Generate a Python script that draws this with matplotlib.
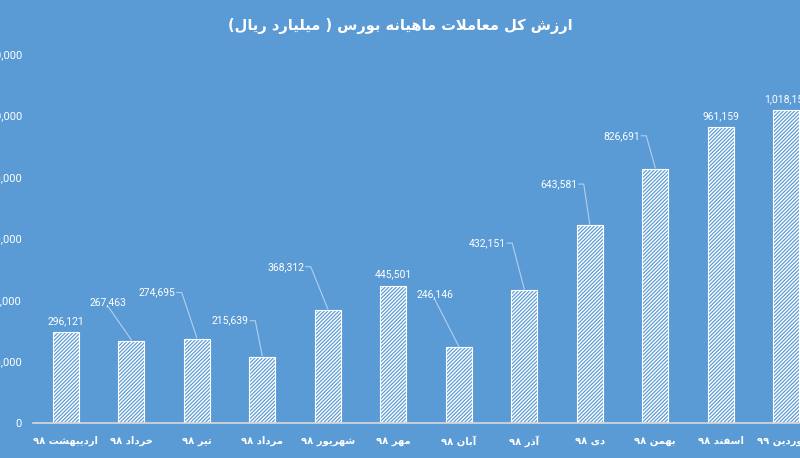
"""
Monthly stock-exchange trading value, bar chart with hatched bars.
"""

import re

import matplotlib
matplotlib.use("Agg")
import matplotlib.pyplot as plt
from matplotlib.lines import Line2D
from matplotlib.transforms import IdentityTransform

months = ["اردیبهشت ۹۸", "خرداد ۹۸", "تیر ۹۸", "مرداد ۹۸", "شهریور ۹۸", "مهر ۹۸",
          "آبان ۹۸", "آذر ۹۸", "دی ۹۸", "بهمن ۹۸", "اسفند ۹۸", "فروردین ۹۹"]
values = [296121, 267463, 274695, 215639, 368312, 445501,
          246146, 432151, 643581, 826691, 961159, 1018159]
title = "ارزش کل معاملات ماهیانه بورس ( میلیارد ریال)"
yticks = [0, 200000, 400000, 600000, 800000, 1000000, 1200000]

# label placement (pixels from bar top) and leader style
label_dx = [0, -23, -40, -32, -42, 0, -24, -37, -31, -34, 0, 0]
label_dy = [11, 39, 46, 36, 43, 12, 53, 47, 41, 33, 11, 11]
leader = ["none", "bottom", "side", "side", "side", "none",
          "bottom", "side", "side", "side", "none", "none"]

BG = "#5B9BD5"
TXT = "#FFFFFF"

# --- minimal Persian shaping (matplotlib has no complex text layout) ---
FORMS = {  # isolated, final, initial, medial
    "ا": ("\uFE8D", "\uFE8E", None, None),
    "آ": ("\uFE81", "\uFE82", None, None),
    "ب": ("\uFE8F", "\uFE90", "\uFE91", "\uFE92"),
    "ت": ("\uFE95", "\uFE96", "\uFE97", "\uFE98"),
    "خ": ("\uFEA5", "\uFEA6", "\uFEA7", "\uFEA8"),
    "د": ("\uFEA9", "\uFEAA", None, None),
    "ذ": ("\uFEAB", "\uFEAC", None, None),
    "ر": ("\uFEAD", "\uFEAE", None, None),
    "ز": ("\uFEAF", "\uFEB0", None, None),
    "س": ("\uFEB1", "\uFEB2", "\uFEB3", "\uFEB4"),
    "ش": ("\uFEB5", "\uFEB6", "\uFEB7", "\uFEB8"),
    "ع": ("\uFEC9", "\uFECA", "\uFECB", "\uFECC"),
    "ف": ("\uFED1", "\uFED2", "\uFED3", "\uFED4"),
    "ل": ("\uFEDD", "\uFEDE", "\uFEDF", "\uFEE0"),
    "م": ("\uFEE1", "\uFEE2", "\uFEE3", "\uFEE4"),
    "ن": ("\uFEE5", "\uFEE6", "\uFEE7", "\uFEE8"),
    "ه": ("\uFEE9", "\uFEEA", "\uFEEB", "\uFEEC"),
    "و": ("\uFEED", "\uFEEE", None, None),
    "ک": ("\uFB8E", "\uFB8F", "\uFB90", "\uFB91"),
    "ی": ("\uFBFC", "\uFBFD", "\uFBFE", "\uFBFF"),
}
LAM_ALEF = {"ا": ("\uFEFB", "\uFEFC"), "آ": ("\uFEF5", "\uFEF6")}


def dual(ch):
    return ch in FORMS and FORMS[ch][2] is not None


def rtl(text):
    out = []
    i = 0
    n = len(text)
    while i < n:
        ch = text[i]
        prev = text[i - 1] if i > 0 else ""
        nxt = text[i + 1] if i + 1 < n else ""
        if ch not in FORMS:
            out.append(ch)
            i += 1
            continue
        jp = dual(prev)
        if ch == "ل" and nxt in LAM_ALEF:
            out.append(LAM_ALEF[nxt][1 if jp else 0])
            i += 2
            continue
        jn = dual(ch) and nxt in FORMS
        iso, fin, ini, med = FORMS[ch]
        if jp and jn:
            out.append(med)
        elif jp:
            out.append(fin)
        elif jn:
            out.append(ini)
        else:
            out.append(iso)
        i += 1
    vis = "".join(out)[::-1]
    vis = re.sub(r"[0-9\u06F0-\u06F9]+", lambda m: m.group(0)[::-1], vis)
    return vis.translate(str.maketrans("()", ")("))


fig = plt.figure(figsize=(8, 4.58), dpi=100)
fig.patch.set_facecolor(BG)
ax = fig.add_axes([33 / 800, 35 / 458, 786 / 800, 369 / 458])
ax.set_facecolor(BG)

plt.rcParams["hatch.linewidth"] = 1.0
x = list(range(len(values)))
ax.bar(x, values, width=0.4, color=BG, edgecolor="white", hatch="/" * 9, linewidth=0.8)

ax.set_xlim(-0.5, len(values) - 0.5)
ax.set_ylim(0, 1200000)
ax.set_yticks(yticks)
ax.set_yticklabels([f"{v:,}" for v in yticks], family="Roboto", fontsize=8, color=TXT)
ax.set_xticks(x)
ax.set_xticklabels([rtl(m) for m in months], family="DejaVu Sans", fontweight="bold",
                   fontsize=7.2, color=TXT)
ax.tick_params(axis="y", length=0, pad=8)
ax.tick_params(axis="x", length=0, pad=9)
for s in ["top", "right", "left"]:
    ax.spines[s].set_visible(False)
ax.spines["bottom"].set_color("#D9D9D9")
ax.spines["bottom"].set_linewidth(1.2)

fig.text(0.5, 1 - 26 / 458, rtl(title), ha="center", va="center", color=TXT,
         family="DejaVu Sans", fontweight="bold", fontsize=10.5)

# data labels with leader lines (pixel space, figure has fixed size)
H = 458
for i, v in enumerate(values):
    bx, by = ax.transData.transform((i, v))
    tx, ty = bx + label_dx[i], by + label_dy[i]
    fig.text(tx / 800, ty / H, f"{v:,}", ha="center", va="center", color=TXT,
             family="Roboto", fontsize=7.5)
    if leader[i] == "side":
        xs = [tx + 20, tx + 25, bx]
        ys = [ty, ty, by + 1]
    elif leader[i] == "bottom":
        xs = [tx, bx]
        ys = [ty - 5, by + 1]
    else:
        continue
    fig.add_artist(Line2D(xs, ys, transform=IdentityTransform(), color="#B4CFEC", lw=0.8))

fig.savefig("out.png", dpi=100, facecolor=BG)
